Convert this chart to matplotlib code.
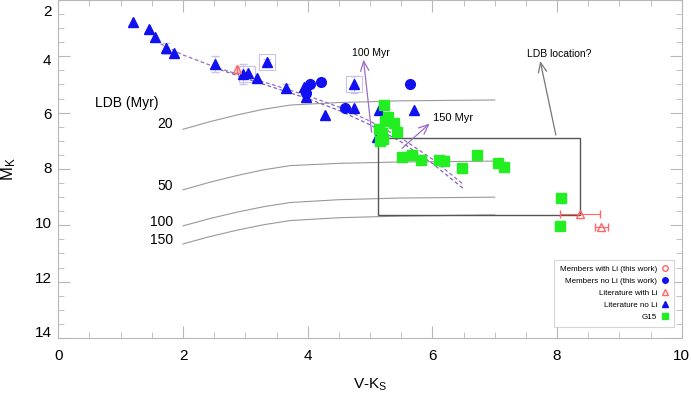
import numpy as np
import matplotlib
matplotlib.use('Agg')
from matplotlib import pyplot as plt
from matplotlib.lines import Line2D
from matplotlib.patches import Rectangle
from matplotlib.ticker import MultipleLocator
from matplotlib.transforms import ScaledTranslation

plt.rcParams['font.family'] = ['Liberation Sans', 'DejaVu Sans']
plt.rcParams['mathtext.fontset'] = 'custom'
plt.rcParams['mathtext.rm'] = 'Liberation Sans'
plt.rcParams['mathtext.it'] = 'Liberation Sans'

# Literature, no Li (blue triangles)
lit_noli_x = [1.20, 1.46, 1.55, 1.72, 1.85, 2.51, 2.96, 3.05, 3.18, 3.35, 3.65,
              3.94, 3.98, 4.28, 4.74, 4.74, 5.15, 5.70, 5.11]
lit_noli_y = [2.78, 3.03, 3.32, 3.72, 3.87, 4.27, 4.63, 4.58, 4.76, 4.20, 5.12,
              5.08, 5.45, 6.08, 5.00, 5.82, 5.90, 5.90, 6.85]

# Members, no Li (blue circles)
mem_noli_x = [4.04, 4.21, 3.98, 4.60, 5.64]
mem_noli_y = [4.98, 4.91, 5.31, 5.82, 4.98]

# Literature with Li (open red triangles)
lit_li_x = [2.86, 8.37, 8.71]
lit_li_y = [4.46, 9.61, 10.07]
lit_li_xerr = [0.0, 0.32, 0.10]

# G15 (green squares)
g15_x = [5.22, 5.29, 5.24, 5.39, 5.44, 5.14, 5.19, 5.16, 5.21, 5.52, 5.68, 5.81,
         6.11, 6.18, 6.47, 6.72, 7.06, 7.15, 8.07, 8.04]
g15_y = [5.72, 6.14, 6.30, 6.36, 6.70, 6.59, 6.73, 7.00, 6.94, 7.56, 7.49, 7.68,
         7.68, 7.72, 7.98, 7.49, 7.79, 7.94, 9.02, 10.01]

# points drawn with error bars / boxes
err_x = [1.72, 2.51, 2.96, 3.35, 3.65, 4.74, 3.98]
err_y = [3.72, 4.27, 4.63, 4.20, 5.12, 5.00, 5.31]
err_dy = [0.20, 0.27, 0.35, 0.12, 0.12, 0.30, 0.15]

# sequences (dashed)
seq1_x = [1.55, 2.0, 2.5, 3.0, 3.5, 4.0, 4.5, 5.0, 5.5, 6.0, 6.5]
seq1_y = [3.46, 3.95, 4.37, 4.72, 5.05, 5.40, 5.80, 6.30, 6.90, 7.65, 8.55]
seq2_x = [2.5, 3.0, 3.5, 4.0, 4.5, 5.0, 5.5, 6.0, 6.5]
seq2_y = [4.40, 4.78, 5.14, 5.50, 5.92, 6.43, 7.04, 7.80, 8.70]

# LDB isochrones
ldb_x = [2.0, 2.43, 2.87, 3.29, 3.72, 4.5, 5.5, 7.0]
ldb_y = {
    '20': [6.59, 6.32, 6.08, 5.88, 5.73, 5.64, 5.58, 5.55],
    '50': [8.74, 8.47, 8.23, 8.03, 7.88, 7.80, 7.75, 7.72],
    '100': [10.02, 9.76, 9.53, 9.34, 9.19, 9.09, 9.03, 9.00],
    '150': [10.66, 10.40, 10.17, 9.98, 9.83, 9.73, 9.67, 9.63],
}
ldb_label_y = {'20': 6.41, '50': 8.59, '100': 9.87, '150': 10.52}

BLUE = '#1010f0'
GREEN = '#22ee22'
RED = '#ff6666'
PURPLE = '#9a6cc4'
ERRC = '#c9c2ea'
AXC = '#b8b8b8'

fig = plt.figure(figsize=(6.91, 4.03), dpi=100)
ax = fig.add_axes([0.0844, 0.1613, 0.9022, 0.8387])

# isochrones
for key, ys in ldb_y.items():
    ax.plot(ldb_x, ys, color='#999999', lw=0.8)
    ax.text(1.84, ldb_label_y[key], key, ha='right', va='center', fontsize=10)
ax.text(1.60, 5.67, 'LDB (Myr)', ha='right', va='center', fontsize=10)

# sequences
ax.plot(seq1_x, seq1_y, color=PURPLE, lw=0.9, ls=(0, (3, 2)))
ax.plot(seq2_x, seq2_y, color='#8060c0', lw=0.9, ls=(0, (3, 2)))

# error bars and boxes
ax.errorbar(err_x, err_y, yerr=err_dy, fmt='none', ecolor=ERRC, elinewidth=0.8,
            capsize=3)
ax.plot([3.35, 3.02, 4.74], [4.20, 4.62, 5.00], ls='none', marker='s',
        markersize=11, mfc='none', mec=ERRC, mew=0.8)

# LDB box
ax.add_patch(Rectangle((5.12, 6.89), 8.37 - 5.12, 9.62 - 6.89, fill=False,
                       ec='#555555', lw=1.0, zorder=2))

# data
ax.plot(lit_noli_x, lit_noli_y, ls='none', marker='^', markersize=7.5,
        color=BLUE, zorder=4)
ax.plot(mem_noli_x, mem_noli_y, ls='none', marker='o', markersize=7,
        color=BLUE, zorder=4)
ax.plot(g15_x, g15_y, ls='none', marker='s', markersize=6.5, color=GREEN,
        zorder=5)
ax.errorbar(lit_li_x, lit_li_y, xerr=lit_li_xerr, fmt='^', ms=6, mfc='none',
            mec=RED, ecolor=RED, elinewidth=0.8, capsize=3, zorder=6)

# arrows and notes
arr = dict(arrowstyle='->,head_length=0.7,head_width=0.3', color=PURPLE, lw=0.9)
ax.annotate('', xy=(4.89, 4.02), xytext=(5.03, 6.79), arrowprops=arr)
ax.text(5.01, 3.89, '100 Myr', ha='center', va='center', fontsize=7.5)
ax.annotate('', xy=(5.99, 6.32), xytext=(5.48, 7.33), arrowprops=arr)
ax.text(6.01, 6.20, '150 Myr', ha='left', va='center', fontsize=8)
ax.annotate('', xy=(7.72, 4.07), xytext=(7.99, 6.89),
            arrowprops=dict(arrowstyle='->,head_length=0.7,head_width=0.3',
                            color='#777777', lw=0.9))
ax.text(8.03, 3.92, 'LDB location?', ha='center', va='center', fontsize=7.5)

# axes
ax.set_xlim(0, 10)
ax.set_ylim(14, 2)
ax.xaxis.set_major_locator(MultipleLocator(2))
ax.xaxis.set_minor_locator(MultipleLocator(0.5))
ax.yaxis.set_major_locator(MultipleLocator(2))
ax.yaxis.set_minor_locator(MultipleLocator(0.5))
ax.tick_params(which='both', direction='in', top=True, right=True, color=AXC,
               labelsize=11)
ax.tick_params(which='major', length=8.6)
ax.tick_params(which='minor', length=4.3)
ax.tick_params(axis='x', pad=8)
ax.tick_params(axis='y', pad=5)
for s in ax.spines.values():
    s.set_color(AXC)
ax.set_xlabel(r'V-K$_\mathregular{S}$', fontsize=11, labelpad=10)
ax.set_ylabel(r'M$_\mathregular{K}$', fontsize=12, labelpad=12)

# legend
handles = [
    Line2D([], [], ls='none', marker='o', ms=4, mfc='none', mec=RED),
    Line2D([], [], ls='none', marker='o', ms=4, color=BLUE),
    Line2D([], [], ls='none', marker='^', ms=4, mfc='none', mec=RED),
    Line2D([], [], ls='none', marker='^', ms=4, color=BLUE),
    Line2D([], [], ls='none', marker='s', ms=4, color=GREEN),
]
labels = ['Members with Li (this work)', 'Members no Li (this work)',
          'Literature with Li', 'Literature no Li', 'G15']
leg = ax.legend(handles, labels, loc='lower right', bbox_to_anchor=(0.988, 0.033),
                borderaxespad=0, markerfirst=False, fontsize=5.8, fancybox=False,
                edgecolor='#cccccc', handlelength=0.8, handletextpad=0.6,
                labelspacing=0.55, borderpad=0.7)
leg.get_frame().set_linewidth(0.8)

# y tick labels sit a little off their ticks in the original
fig.canvas.draw()
shift_px = {2: 10, 4: 3, 6: 1, 8: -1, 10: -3, 12: -4, 14: -6}
for tick in ax.yaxis.get_major_ticks():
    loc = int(round(tick.get_loc()))
    if loc in shift_px:
        off = ScaledTranslation(0, -shift_px[loc] / 100, fig.dpi_scale_trans)
        tick.label1.set_transform(tick.label1.get_transform() + off)

fig.savefig('out.png', dpi=100)
